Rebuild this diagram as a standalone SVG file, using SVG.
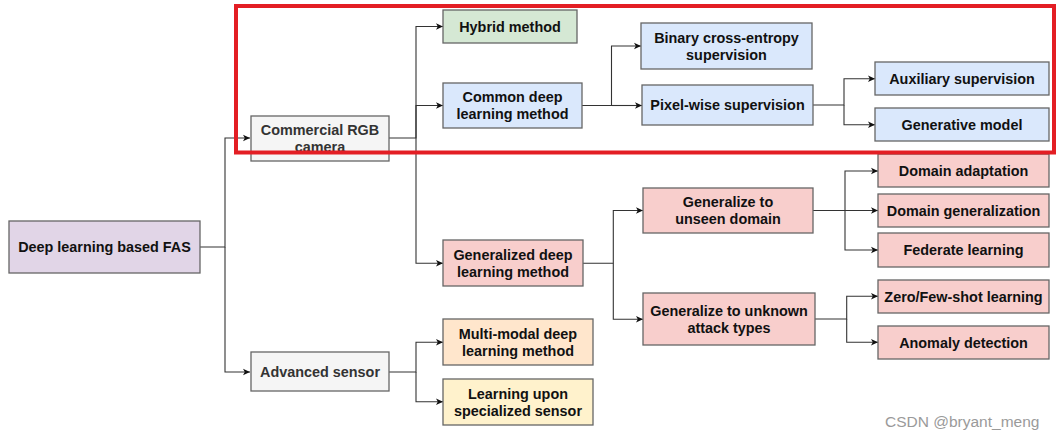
<svg xmlns="http://www.w3.org/2000/svg" width="1057" height="439" viewBox="0 0 1057 439">
<style>
.b{stroke:#666666;stroke-width:1.3}
.t{font-family:"Liberation Sans",Arial,sans-serif;font-size:14.4px;font-weight:bold;fill:#111111;text-anchor:middle}
.g{fill:#333333}
.c{fill:none;stroke:#333333;stroke-width:1.1}
</style>
<defs>
<marker id="a" markerUnits="userSpaceOnUse" markerWidth="8" markerHeight="8" refX="7" refY="4" orient="auto">
<path d="M0,0.8 L7,4 L0,7.2 L1.8,4 Z" fill="#111111"/>
</marker>
</defs>
<rect width="1057" height="439" fill="#ffffff"/>
<g id="connectors">
<path class="c" d="M200,247 H225 V138 H250" marker-end="url(#a)"/>
<path class="c" d="M225,247 V372 H250" marker-end="url(#a)"/>
<path class="c" d="M389,138 H416 V26.5 H443" marker-end="url(#a)"/>
<path class="c" d="M416,138 V105.5 H443" marker-end="url(#a)"/>
<path class="c" d="M416,138 V263.3 H443" marker-end="url(#a)"/>
<path class="c" d="M582,105.5 H611.5 V46 H641" marker-end="url(#a)"/>
<path class="c" d="M611.5,105.5 H642" marker-end="url(#a)"/>
<path class="c" d="M813,105 H844 V78.7 H875" marker-end="url(#a)"/>
<path class="c" d="M844,105 V124.8 H875" marker-end="url(#a)"/>
<path class="c" d="M583,263.3 H613.3 V210.5 H643" marker-end="url(#a)"/>
<path class="c" d="M613.3,263.3 V319.3 H643" marker-end="url(#a)"/>
<path class="c" d="M813,210.5 H845 V171 H878" marker-end="url(#a)"/>
<path class="c" d="M845,210.5 H878" marker-end="url(#a)"/>
<path class="c" d="M845,210.5 V250 H878" marker-end="url(#a)"/>
<path class="c" d="M815,319 H846.7 V296.3 H878" marker-end="url(#a)"/>
<path class="c" d="M846.7,319 V342.3 H878" marker-end="url(#a)"/>
<path class="c" d="M389,372 H416 V342.3 H443" marker-end="url(#a)"/>
<path class="c" d="M416,372 V401.7 H443" marker-end="url(#a)"/>
</g>
<g id="root"><rect class="b" x="9" y="221" width="191" height="52" fill="#e1d5e7"/><text class="t" x="104.5" y="252">Deep learning based FAS</text></g>
<g id="camera"><rect class="b" x="251" y="116" width="138" height="45" fill="#f5f5f5"/><text class="t g" x="320" y="135">Commercial RGB</text><text class="t g" x="320" y="152">camera</text></g>
<g id="advanced"><rect class="b" x="251" y="352" width="138" height="39" fill="#f5f5f5"/><text class="t g" x="320" y="376.5">Advanced sensor</text></g>
<g id="hybrid"><rect class="b" x="443" y="10" width="134" height="33" fill="#d5e8d4"/><text class="t" x="510" y="31.5">Hybrid method</text></g>
<g id="common"><rect class="b" x="443" y="83" width="139" height="45" fill="#dae8fc"/><text class="t" x="512.5" y="102">Common deep</text><text class="t" x="512.5" y="119">learning method</text></g>
<g id="generalized"><rect class="b" x="443" y="240" width="140" height="46" fill="#f8cecc"/><text class="t" x="513" y="259.5">Generalized deep</text><text class="t" x="513" y="276.5">learning method</text></g>
<g id="multimodal"><rect class="b" x="443" y="319" width="150" height="46" fill="#ffe6cc"/><text class="t" x="518" y="338.5">Multi-modal deep</text><text class="t" x="518" y="355.5">learning method</text></g>
<g id="specialized"><rect class="b" x="443" y="379" width="150" height="46" fill="#fff2cc"/><text class="t" x="518" y="398.5">Learning upon</text><text class="t" x="518" y="415.5">specialized sensor</text></g>
<g id="binary"><rect class="b" x="641" y="23" width="171" height="46" fill="#dae8fc"/><text class="t" x="726.5" y="42.5">Binary cross-entropy</text><text class="t" x="726.5" y="59.5">supervision</text></g>
<g id="pixel"><rect class="b" x="642" y="85" width="171" height="40" fill="#dae8fc"/><text class="t" x="727.5" y="110">Pixel-wise supervision</text></g>
<g id="unseen"><rect class="b" x="643" y="188" width="170" height="45" fill="#f8cecc"/><text class="t" x="728" y="207">Generalize to</text><text class="t" x="728" y="224">unseen domain</text></g>
<g id="unknown"><rect class="b" x="643" y="293" width="172" height="52" fill="#f8cecc"/><text class="t" x="729" y="315.5">Generalize to unknown</text><text class="t" x="729" y="332.5">attack types</text></g>
<g id="auxiliary"><rect class="b" x="875" y="62" width="174" height="33" fill="#dae8fc"/><text class="t" x="962" y="83.5">Auxiliary supervision</text></g>
<g id="generative"><rect class="b" x="875" y="108" width="174" height="33" fill="#dae8fc"/><text class="t" x="962" y="129.5">Generative model</text></g>
<g id="da"><rect class="b" x="878" y="154" width="171" height="33" fill="#f8cecc"/><text class="t" x="963.5" y="175.5">Domain adaptation</text></g>
<g id="dg"><rect class="b" x="878" y="194" width="171" height="33" fill="#f8cecc"/><text class="t" x="963.5" y="215.5">Domain generalization</text></g>
<g id="fl"><rect class="b" x="878" y="233" width="171" height="34" fill="#f8cecc"/><text class="t" x="963.5" y="255">Federate learning</text></g>
<g id="zf"><rect class="b" x="878" y="280" width="171" height="33" fill="#f8cecc"/><text class="t" x="963.5" y="301.5">Zero/Few-shot learning</text></g>
<g id="ad"><rect class="b" x="878" y="326" width="171" height="33" fill="#f8cecc"/><text class="t" x="963.5" y="347.5">Anomaly detection</text></g>
<rect id="highlight" x="236" y="6" width="818" height="146.5" fill="none" stroke="#e31e24" stroke-width="4"/>
<text x="885" y="427" font-family="'Liberation Sans',Arial,sans-serif" font-size="15.5" fill="#9a9a9a">CSDN @bryant_meng</text>
</svg>
